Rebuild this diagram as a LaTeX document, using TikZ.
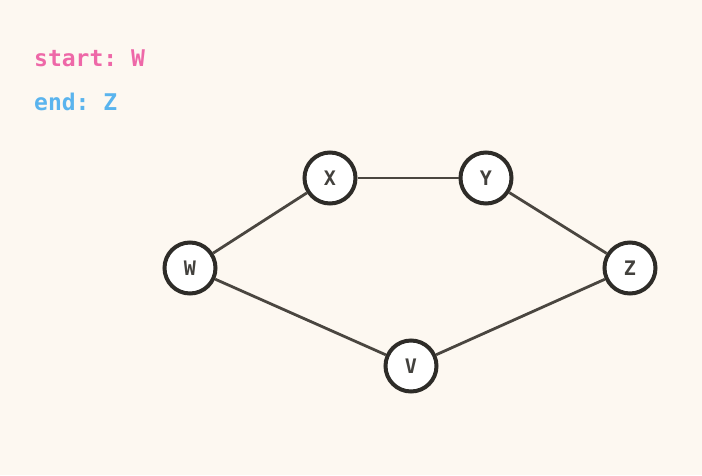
\documentclass[tikz,border=0pt]{standalone}
\usepackage{fontspec}
\setmonofont{DejaVu Sans Mono}
\definecolor{paper}{HTML}{FDF8F1}
\definecolor{ink}{HTML}{2E2C28}
\definecolor{edgeink}{HTML}{4A4640}
\definecolor{startpink}{HTML}{EE68A8}
\definecolor{endblue}{HTML}{5AB4EE}
\tikzset{
  vertex/.style={circle,draw=ink,fill=white,line width=4pt,minimum size=51pt,inner sep=0pt,
    font=\fontsize{20}{20}\selectfont\ttfamily\bfseries,text=ink!90},
  link/.style={draw=edgeink,line width=2.8pt},
  caption/.style={anchor=base west,inner sep=0pt,font=\fontsize{23}{23}\selectfont\ttfamily\bfseries}
}
\begin{document}
\begin{tikzpicture}[x=1pt,y=-1pt]
        \fill[paper] (0,0) rectangle (702,475);
        \useasboundingbox (0,0) rectangle (702,475);
        \node[caption,text=startpink] (start) at (34,66) {start: W};
        \node[caption,text=endblue] (end) at (34,110) {end: Z};
        \node[vertex] (W) at (190,268) {W};
        \node[vertex] (X) at (330,178) {X};
        \node[vertex] (Y) at (486,178) {Y};
        \node[vertex] (Z) at (630,268) {Z};
        \node[vertex] (V) at (411,366) {V};
        \draw[link] (W) -- (X);
        \draw[link] (X) -- (Y);
        \draw[link] (Y) -- (Z);
        \draw[link] (W) -- (V);
        \draw[link] (V) -- (Z);
      \end{tikzpicture}
\end{document}
